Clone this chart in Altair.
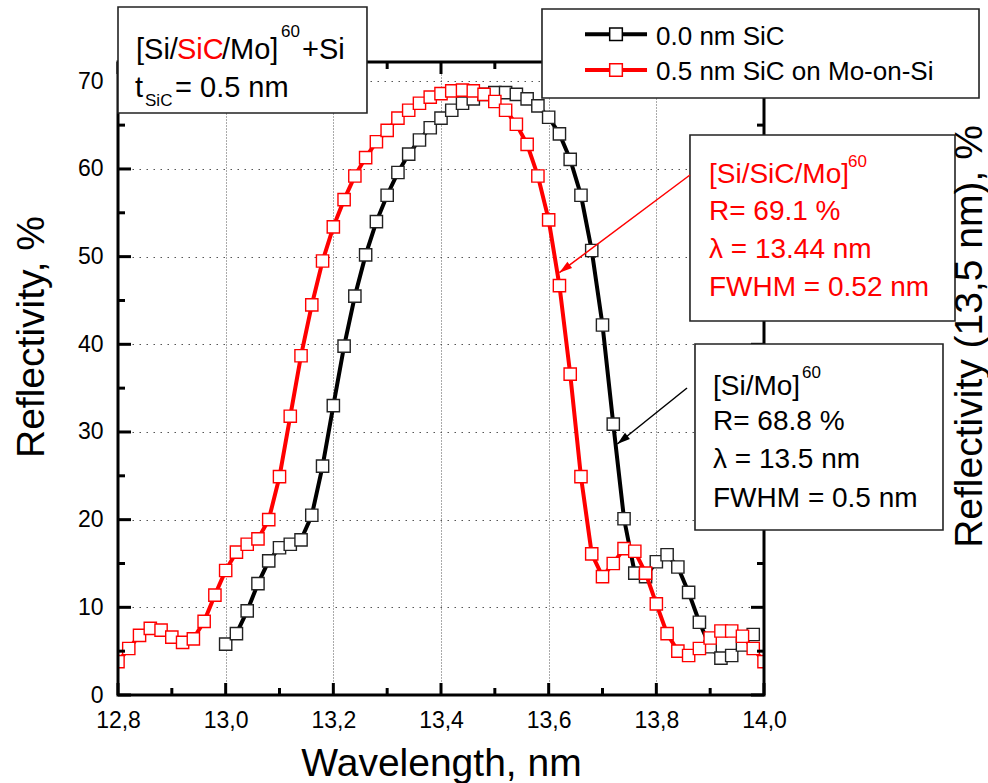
import altair as alt
import pandas as pd

# ---------------- data ----------------
red_wl = [12.80, 12.82, 12.84, 12.86, 12.88, 12.90, 12.92, 12.94, 12.96, 12.98,
          13.00, 13.02, 13.04, 13.06, 13.08, 13.10, 13.12, 13.14, 13.16, 13.18,
          13.20, 13.22, 13.24, 13.26, 13.28, 13.30, 13.32, 13.34, 13.36, 13.38,
          13.40, 13.42, 13.44, 13.46, 13.48, 13.50, 13.52, 13.54, 13.56, 13.58,
          13.60, 13.62, 13.64, 13.66, 13.68, 13.70, 13.72, 13.74, 13.76, 13.78,
          13.80, 13.82, 13.84, 13.86, 13.88, 13.90, 13.92, 13.94, 13.96, 13.98,
          14.00]
red_R = [3.8, 5.3, 6.8, 7.6, 7.4, 6.6, 6.0, 6.4, 8.4, 11.4,
         14.2, 16.3, 17.2, 17.8, 20.0, 24.9, 31.8, 38.7, 44.5, 49.5,
         53.4, 56.5, 59.2, 61.3, 63.1, 64.4, 65.8, 66.7, 67.5, 68.2,
         68.6, 68.9, 69.0, 68.9, 68.5, 67.7, 66.7, 65.1, 62.8, 59.2,
         54.2, 46.7, 36.6, 24.9, 16.1, 13.5, 15.0, 16.7, 16.4, 13.9,
         10.4, 7.0, 5.0, 4.5, 5.3, 6.5, 7.3, 7.3, 6.7, 5.3,
         3.8]

black_wl = [13.00, 13.02, 13.04, 13.06, 13.08, 13.10, 13.12, 13.14, 13.16, 13.18,
            13.20, 13.22, 13.24, 13.26, 13.28, 13.30, 13.32, 13.34, 13.36, 13.38,
            13.40, 13.42, 13.44, 13.46, 13.48, 13.50, 13.52, 13.54, 13.56, 13.58,
            13.60, 13.62, 13.64, 13.66, 13.68, 13.70, 13.72, 13.74, 13.76, 13.78,
            13.80, 13.82, 13.84, 13.86, 13.88, 13.90, 13.92, 13.94, 13.96, 13.98]
black_R = [5.8, 7.0, 9.6, 12.7, 15.3, 16.8, 17.2, 17.7, 20.5, 26.1,
           33.0, 39.8, 45.5, 50.2, 54.0, 57.0, 59.6, 61.7, 63.3, 64.7,
           65.8, 66.7, 67.5, 68.0, 68.5, 68.7, 68.7, 68.5, 68.0, 67.2,
           65.9, 64.0, 61.1, 57.0, 50.7, 42.2, 30.9, 20.1, 13.9, 13.5,
           15.2, 16.0, 14.6, 11.7, 8.3, 5.5, 4.2, 4.5, 5.7, 6.9]

x_major = [12.8, 13.0, 13.2, 13.4, 13.6, 13.8, 14.0]
x_minor = [12.9, 13.1, 13.3, 13.5, 13.7, 13.9]
y_major = [0, 10, 20, 30, 40, 50, 60, 70]
y_minor = [5, 15, 25, 35, 45, 55, 65]

series_names = ["0.0 nm SiC", "0.5 nm SiC on Mo-on-Si"]

# annotation boxes (data units: nm, %)
box_x1 = [12.8, 13.5876, 13.8625, 13.8718]
box_x2 = [13.2625, 14.3994, 14.3548, 14.3325]
box_y1 = [78.48, 78.25, 63.88, 40.04]
box_y2 = [66.39, 68.10, 42.66, 18.82]

# annotation texts
ann_text = ["[Si/", "SiC", "/Mo]", "60", "+Si",
            "t", "SiC", "= 0.5 nm",
            "[Si/SiC/Mo]", "60", "R= 69.1 %", "\u03bb = 13.44 nm", "FWHM = 0.52 nm",
            "[Si/Mo]", "60", "R= 68.8 %", "\u03bb = 13.5 nm", "FWHM = 0.5 nm",
            series_names[0], series_names[1]]
ann_x = [12.8334, 12.9096, 12.9932, 13.1028, 13.1417,
         12.8316, 12.8502, 12.9059,
         13.8978, 14.1560, 13.8978, 13.8978, 13.8978,
         13.9053, 14.0706, 13.9053, 13.9053, 13.9053,
         13.7994, 13.7994]
ann_y = [72.54, 72.54, 72.54, 75.05, 72.54,
         68.21, 67.18, 68.21,
         58.40, 60.23, 54.18, 49.85, 45.51,
         34.22, 36.16, 30.23, 25.89, 21.44,
         74.14, 70.15]
ann_size = [29, 29, 29, 17, 29,
            29, 17, 29,
            28, 17, 28, 28, 28,
            28, 17, 28, 28, 28,
            26, 26]
ann_color = ["black", "red", "black", "black", "black",
             "black", "black", "black",
             "red", "red", "red", "red", "red",
             "black", "black", "black", "black", "black",
             "black", "black"]

# arrows: start -> tip
arrow_x1 = [13.8625, 13.8570]
arrow_y1 = [59.31, 35.02]
arrow_x2 = [13.6198, 13.7275]
arrow_y2 = [48.17, 28.63]
arrow_color = ["red", "black"]
arrow_angle = [233.2, 231.3]

# legend samples
leg_x1 = [13.6675, 13.6675]
leg_x2 = [13.7827, 13.7827]
leg_xc = [13.7251, 13.7251]
leg_y = [75.36, 71.29]
leg_color = ["black", "red"]

right_title = ["Reflectivity (13,5 nm), %"]
right_title_x = [14.4042]
right_title_y = [40.89]

# ---------------- chart ----------------
W, H = 646, 633
FONT = "Liberation Sans"
xs = alt.Scale(domain=[12.8, 14.0], nice=False, zero=False)
ys = alt.Scale(domain=[0, 72.2], nice=False, zero=False)

red_df = pd.DataFrame({"x": red_wl, "y": red_R})
black_df = pd.DataFrame({"x": black_wl, "y": black_R})

x_axis = alt.Axis(values=x_major, grid=True, gridDash=[1, 2], gridColor="#555555",
                  gridWidth=1, ticks=False, tickSize=0, domain=False,
                  labelExpr="replace(format(datum.value, '.1f'), '.', ',')",
                  labelFont=FONT, labelFontSize=23, labelColor="black",
                  labelPadding=32, labelBaseline="alphabetic", labelFlush=False,
                  labelOverlap=False,
                  title="Wavelength, nm", titleFont=FONT, titleFontSize=39,
                  titleFontWeight="normal", titleColor="black",
                  titleBaseline="alphabetic", titleY=80)
y_axis = alt.Axis(values=y_major, grid=True, gridDash=[1.5, 5.5], gridColor="#555555",
                  gridWidth=1, ticks=False, tickSize=0, domain=False,
                  labelFont=FONT, labelFontSize=23, labelColor="black",
                  labelPadding=15, labelFlush=False, labelOverlap=False,
                  title="Reflectivity, %", titleFont=FONT, titleFontSize=39,
                  titleFontWeight="normal", titleColor="black",
                  titleAngle=270, titleBaseline="alphabetic", titleAlign="center",
                  titleX=-75, titleY=274.5)

X = lambda f: alt.X(f, scale=xs)
Y = lambda f: alt.Y(f, scale=ys)

black_line = alt.Chart(black_df).mark_line(color="black", strokeWidth=4, clip=True).encode(
    x=alt.X("x:Q", scale=xs, axis=x_axis),
    y=alt.Y("y:Q", scale=ys, axis=y_axis))
black_pts = alt.Chart(black_df).mark_point(shape="square", filled=True, fill="white",
                                           stroke="#222222", strokeWidth=1.4, size=150,
                                           opacity=1, clip=True).encode(
    x=X("x:Q"), y=Y("y:Q"))
red_line = alt.Chart(red_df).mark_line(color="#ff0000", strokeWidth=4, clip=True).encode(
    x=X("x:Q"), y=Y("y:Q"))
red_pts = alt.Chart(red_df).mark_point(shape="square", filled=True, fill="white",
                                       stroke="#ff0000", strokeWidth=1.4, size=150,
                                       opacity=1, clip=True).encode(
    x=X("x:Q"), y=Y("y:Q"))

one = pd.DataFrame({"a": [0]})
frame = alt.Chart(one).mark_rect(filled=False, stroke="black", strokeWidth=3).encode(
    x=alt.value(0), x2=alt.value(W), y=alt.value(0), y2=alt.value(H))

def xticks(vals, length):
    d = pd.DataFrame({"x": vals})
    bot = alt.Chart(d).mark_rule(color="black", strokeWidth=3).encode(
        x=X("x:Q"), y=alt.value(H), y2=alt.value(H - length))
    top = alt.Chart(d).mark_rule(color="black", strokeWidth=3).encode(
        x=X("x:Q"), y=alt.value(0), y2=alt.value(length))
    return [bot, top]

def yticks(vals, length):
    d = pd.DataFrame({"y": vals})
    left = alt.Chart(d).mark_rule(color="black", strokeWidth=3).encode(
        y=Y("y:Q"), x=alt.value(0), x2=alt.value(length))
    right = alt.Chart(d).mark_rule(color="black", strokeWidth=3).encode(
        y=Y("y:Q"), x=alt.value(W), x2=alt.value(W - length))
    return [left, right]

ticks = xticks(x_major, 12) + xticks(x_minor, 7) + yticks(y_major, 13) + yticks(y_minor, 7)

box_df = pd.DataFrame({"x": box_x1, "x2": box_x2, "y": box_y1, "y2": box_y2})
boxes = alt.Chart(box_df).mark_rect(fill="white", stroke="#222222", strokeWidth=1.6).encode(
    x=X("x:Q"), x2="x2:Q", y=Y("y:Q"), y2="y2:Q")

arr_df = pd.DataFrame({"x": arrow_x1, "x2": arrow_x2, "y": arrow_y1, "y2": arrow_y2,
                       "c": arrow_color, "ang": arrow_angle})
arr_lines = alt.Chart(arr_df).mark_rule(strokeWidth=1.5).encode(
    x=X("x:Q"), x2="x2:Q", y=Y("y:Q"), y2="y2:Q",
    color=alt.Color("c:N", scale=None))
arr_heads = alt.Chart(arr_df).mark_point(shape="M0,0L-0.3,1L0.3,1Z", filled=True,
                                         size=676, opacity=1).encode(
    x=X("x2:Q"), y=Y("y2:Q"),
    color=alt.Color("c:N", scale=None), angle=alt.Angle("ang:Q", scale=None))

leg_df = pd.DataFrame({"x": leg_x1, "x2": leg_x2, "xc": leg_xc, "y": leg_y, "c": leg_color})
leg_lines = alt.Chart(leg_df).mark_rule(strokeWidth=4).encode(
    x=X("x:Q"), x2="x2:Q", y=Y("y:Q"), color=alt.Color("c:N", scale=None))
leg_pts = alt.Chart(leg_df).mark_point(shape="square", filled=True, fill="white",
                                       strokeWidth=1.5, size=160, opacity=1).encode(
    x=X("xc:Q"), y=Y("y:Q"), stroke=alt.Stroke("c:N", scale=None))

ann_df = pd.DataFrame({"x": ann_x, "y": ann_y, "t": ann_text, "s": ann_size, "c": ann_color})
texts = alt.Chart(ann_df).mark_text(font=FONT, align="left", baseline="alphabetic").encode(
    x=X("x:Q"), y=Y("y:Q"),
    text="t:N", size=alt.Size("s:Q", scale=None), color=alt.Color("c:N", scale=None))

rt_df = pd.DataFrame({"x": right_title_x, "y": right_title_y, "t": right_title})
rtitle = alt.Chart(rt_df).mark_text(font=FONT, fontSize=39, angle=270, align="center",
                                    baseline="alphabetic", color="black").encode(
    x=X("x:Q"), y=Y("y:Q"), text="t:N")

layers = [black_line, black_pts, red_line, red_pts, frame] + ticks + \
         [boxes, arr_lines, arr_heads, leg_lines, leg_pts, texts, rtitle]

chart = alt.layer(*layers).properties(
    width=W, height=H,
    padding={"left": 118, "top": 62, "right": 988 - 118 - W, "bottom": 783 - 62 - H},
    autosize=alt.AutoSizeParams(type="none"),
    background="white",
).configure_view(strokeWidth=0)

chart.save("out.html", embed_options={"renderer": "svg", "actions": False})
